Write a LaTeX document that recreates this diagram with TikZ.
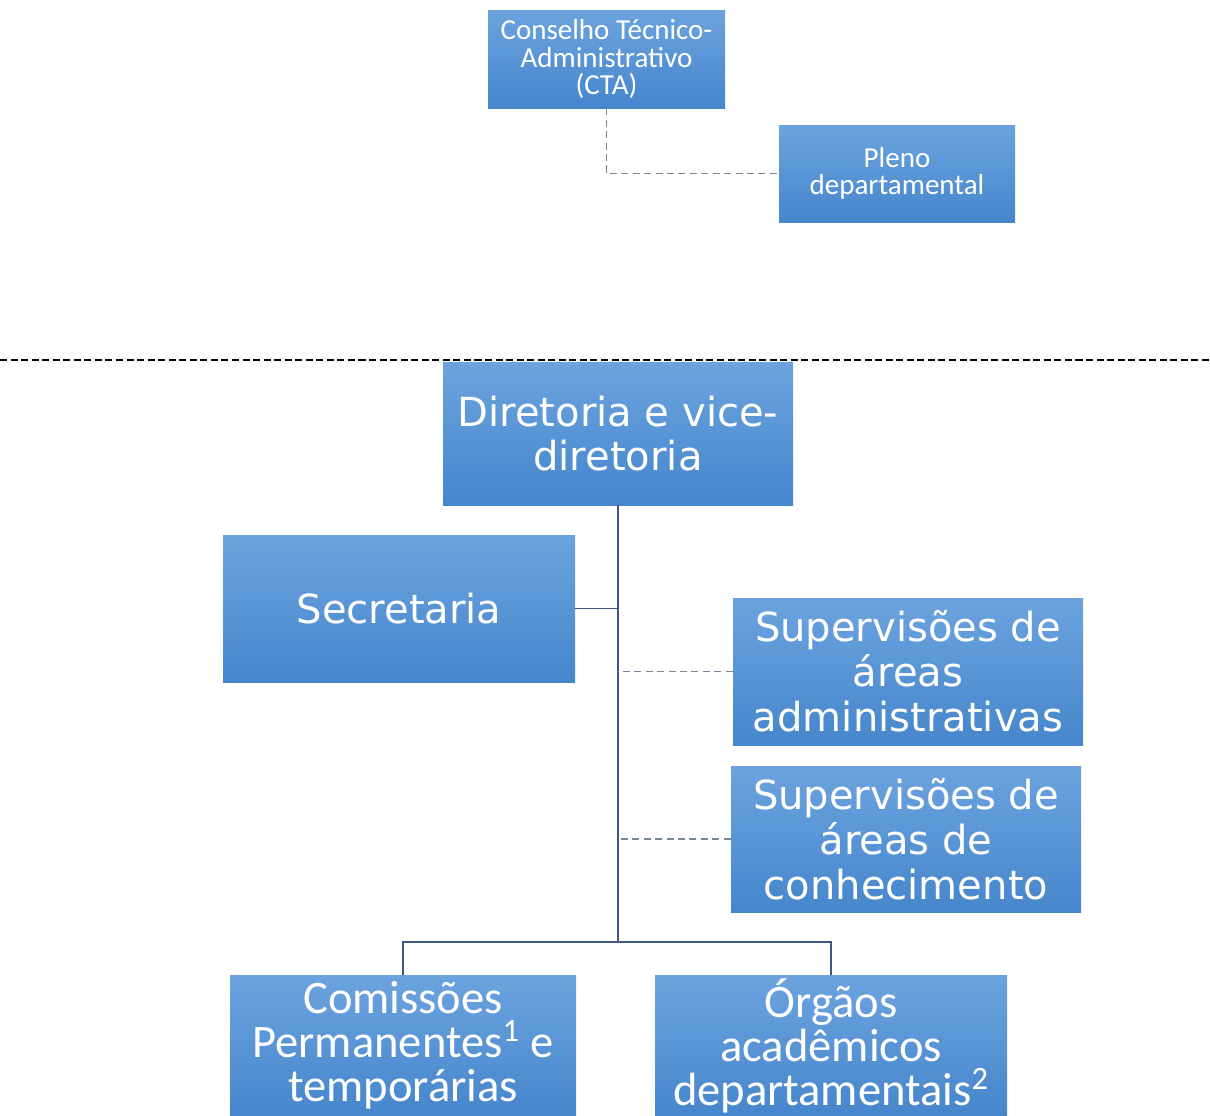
\documentclass[tikz,border=0pt]{standalone}
\usepackage{fontspec}
\usepackage{tikz}
\usetikzlibrary{arrows, positioning}
\newfontfamily\narrowfont{Carlito}
\newfontfamily\widefont{DejaVu Sans}
\definecolor{boxtop}{RGB}{108,163,222}
\definecolor{boxbottom}{RGB}{70,134,204}
\definecolor{linkblue}{RGB}{62,88,130}
\definecolor{linkgray}{RGB}{120,134,150}
\tikzset{
  orgbox/.style={rectangle, top color=boxtop, bottom color=boxbottom,
    draw=none, text=white, align=center, inner sep=0pt},
  smallbox/.style={orgbox, font=\narrowfont\fontsize{16.5}{15.6}\selectfont},
  bigbox/.style={orgbox, font=\widefont\fontsize{22.8}{25.5}\selectfont},
  footbox/.style={orgbox, font=\narrowfont\fontsize{26.5}{25}\selectfont},
  solidlink/.style={draw=linkblue, line width=0.9pt},
  dashlink/.style={draw=linkgray, line width=0.9pt, dash pattern=on 4pt off 2.5pt}
}
\begin{document}
\begin{tikzpicture}
\clip (0,0) rectangle (24.2,-22.3);
\fill[white] (0,0) rectangle (24.2,-22.3);
% the upper boxes
\node[smallbox, minimum width=4.74cm, minimum height=1.96cm] (cta) at (12.13,-1.18)
  {Conselho Técnico-\\Administrativo\\(CTA)};
\node[smallbox, minimum width=4.72cm, minimum height=1.94cm] (pleno) at (17.94,-3.47)
  {Pleno\\departamental};
\draw[dashlink] (cta.south) |- (pleno.west);
% the dashed line that separates the two parts
\draw[black, line width=0.8pt, dash pattern=on 4pt off 2pt] (0,-7.2) -- (24.2,-7.2);
% we draw the main boxes
\node[bigbox, minimum width=7cm, minimum height=2.86cm] (dir) at (12.36,-8.67)
  {Diretoria e vice-\\diretoria};
\node[bigbox, minimum width=7.04cm, minimum height=2.94cm] (sec) at (7.98,-12.17)
  {Secretaria};
\node[bigbox, minimum width=7cm, minimum height=2.94cm] (supadm) at (18.16,-13.43)
  {Supervisões de\\áreas\\administrativas};
\node[bigbox, minimum width=7cm, minimum height=2.92cm] (supcon) at (18.12,-16.78)
  {Supervisões de\\áreas de\\conhecimento};
\node[footbox, minimum width=6.92cm, minimum height=2.82cm] (com) at (8.06,-20.91)
  {Comissões\\Permanentes\textsuperscript{1} e\\temporárias};
\node[footbox, minimum width=7.04cm, minimum height=2.82cm] (org) at (16.62,-20.91)
  {Órgãos\\acadêmicos\\departamentais\textsuperscript{2}};
% the trunk and its branches
\draw[solidlink] (dir.south) -- (dir.south |- 0,-18.84) coordinate (fork);
\draw[solidlink] (sec.east) -- (sec.east -| fork);
\foreach \supbox in {supadm,supcon}
{
  \draw[dashlink] (\supbox.west) -- (\supbox.west -| fork);
}
\draw[solidlink] (com.north) |- (fork) -| (org.north);
%
\end{tikzpicture}
\end{document}
